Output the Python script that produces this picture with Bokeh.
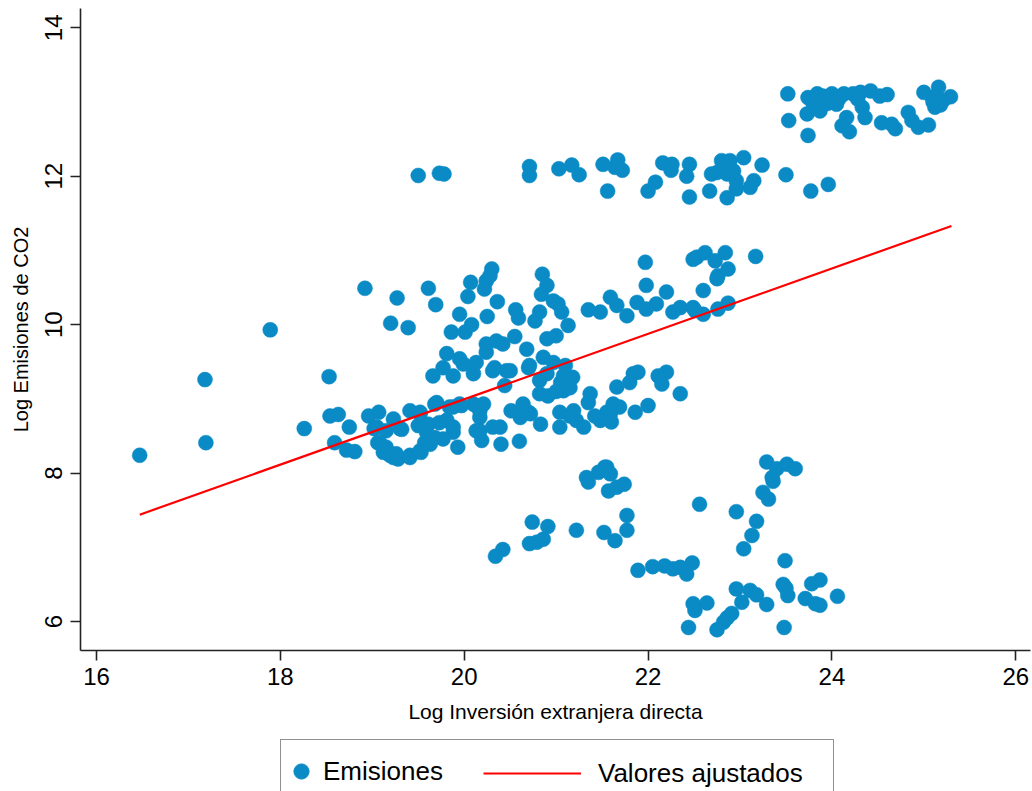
from bokeh.plotting import figure
from bokeh.models import FixedTicker, Legend, LegendItem, ColumnDataSource
from bokeh.layouts import column
from bokeh.embed import file_html
from bokeh.resources import INLINE

# ---- data ----
# band around log CO2 ~ 12
top_x = [19.50, 19.73, 19.78, 20.71, 20.71, 21.03, 21.17, 21.25, 21.51, 21.67, 21.64, 21.72, 21.56,
         22.16, 22.26, 22.25, 22.45, 22.42, 22.45, 22.08, 22.00, 22.69, 22.80, 22.89, 23.04, 23.24,
         23.15, 23.11, 22.96, 22.86, 22.67, 22.75, 22.86, 22.93, 22.96, 22.82, 23.50, 23.77, 23.96]
top_y = [12.01, 12.04, 12.03, 12.13, 12.01, 12.10, 12.15, 12.02, 12.16, 12.22, 12.12, 12.08, 11.80,
         12.18, 12.16, 12.08, 12.16, 12.00, 11.72, 11.92, 11.80, 12.03, 12.21, 12.21, 12.25, 12.15,
         11.94, 11.85, 11.83, 11.71, 11.80, 12.05, 12.03, 12.07, 11.94, 12.12, 12.02, 11.80, 11.89]

# upper-right group ~ 13
ur_x = [23.52, 23.53, 23.74, 23.73, 23.74, 23.84, 23.87, 23.80, 24.00, 24.05, 24.13, 24.11, 24.19,
        24.16, 24.23, 24.31, 24.33, 24.36, 24.42, 24.52, 24.54, 24.69, 24.65, 24.83, 24.87, 24.94,
        25.05, 25.00, 25.16, 25.12, 25.21, 25.29, 25.09, 23.90, 23.95, 24.08, 24.28, 23.78, 24.60,
        25.10, 25.18]
ur_y = [13.11, 12.75, 12.55, 12.84, 13.06, 13.11, 12.88, 12.97, 13.11, 12.97, 13.11, 12.68, 12.60,
        12.79, 13.11, 13.13, 12.93, 12.79, 13.15, 13.08, 12.72, 12.64, 12.70, 12.86, 12.75, 12.66,
        12.69, 13.13, 13.20, 12.93, 13.02, 13.07, 13.06, 13.08, 12.98, 13.05, 13.04, 13.02, 13.10,
        13.00, 12.96]

# middle band ~ 10-11
mid_x = [18.92, 19.27, 19.20, 19.39, 19.61, 19.69, 20.07, 20.04, 19.95, 19.86, 20.01, 20.08, 20.24,
         20.30, 20.22, 20.25, 20.36, 20.56, 20.59, 20.85, 20.90, 20.84, 20.82, 20.77, 20.97, 21.02,
         21.06, 21.13, 21.35, 21.48, 21.59, 21.66, 21.77, 21.88, 21.98, 22.09, 22.20, 22.27, 22.35,
         22.49, 21.98, 21.97, 22.49, 22.53, 22.62, 22.73, 22.84, 22.87, 22.76, 23.17, 22.75, 22.60,
         22.60, 22.76, 22.87, 22.51, 20.28, 17.89, 17.18, 18.53, 17.19, 16.47]
mid_y = [10.49, 10.36, 10.02, 9.96, 10.49, 10.27, 10.57, 10.38, 10.14, 9.90, 9.90, 10.00, 10.59,
         10.75, 10.48, 10.11, 10.31, 10.20, 10.09, 10.68, 10.53, 10.41, 10.17, 10.05, 10.32, 10.28,
         10.17, 9.99, 10.20, 10.17, 10.37, 10.26, 10.12, 10.30, 10.21, 10.28, 10.44, 10.17, 10.23,
         10.23, 10.53, 10.84, 10.88, 10.91, 10.97, 10.86, 10.97, 10.75, 10.66, 10.92, 10.62, 10.46,
         10.14, 10.21, 10.29, 10.19, 10.66, 9.93, 9.26, 9.30, 8.41, 8.24]

# dense cluster ~ 8.2-9.8
cl_x = [18.26, 18.54, 18.63, 18.75, 18.59, 18.72, 18.81, 18.96, 19.07, 19.23, 19.05, 19.06, 19.12,
        19.23, 19.15, 19.02, 19.30, 19.41, 19.52, 19.68, 19.08, 19.19, 19.28, 19.41, 19.52, 19.57,
        19.50, 19.61, 19.59, 19.73, 19.81, 19.84, 19.95, 19.88, 19.77, 19.93, 20.10, 20.21, 20.17,
        20.13, 20.19, 20.31, 19.66, 19.77, 19.88, 19.99, 20.10, 20.31, 19.81, 19.95, 20.13, 20.24,
        20.35, 20.42, 20.33, 20.46, 20.44, 20.55, 20.68, 20.70, 20.90, 21.00, 20.86, 20.97, 20.82,
        20.90, 20.82, 20.91, 21.08, 21.18, 21.08, 20.24, 20.50, 20.71, 21.10, 21.05, 21.15, 21.00,
        19.70, 19.88, 19.97, 20.13, 20.51, 20.64, 20.70, 20.39, 20.40, 20.60, 20.83, 21.04, 21.04,
        21.19, 21.22, 21.30, 21.37, 21.35, 21.48, 21.55, 21.62, 21.66, 21.69, 21.86, 22.00, 21.84,
        21.80, 21.89, 22.11, 22.20, 22.15, 22.35, 20.17, 20.17, 20.72, 20.61, 21.15, 21.42, 21.59,
        21.60, 19.32, 19.52, 19.81, 19.88, 19.15, 19.26, 19.41, 19.53, 19.63, 19.68]
cl_y = [8.60, 8.77, 8.79, 8.62, 8.41, 8.31, 8.29, 8.77, 8.82, 8.73, 8.62, 8.41, 8.28,
        8.21, 8.57, 8.60, 8.60, 8.84, 8.80, 8.93, 8.41, 8.24, 8.19, 8.24, 8.30, 8.41,
        8.64, 8.66, 8.55, 8.68, 8.71, 8.89, 8.93, 8.55, 8.46, 8.35, 8.93, 8.93, 8.75,
        8.57, 8.44, 8.62, 9.31, 9.42, 9.31, 9.47, 9.34, 9.38, 9.61, 9.54, 9.49, 9.63,
        9.78, 9.74, 9.42, 9.38, 9.18, 9.84, 9.67, 9.42, 9.81, 9.85, 9.56, 9.49, 9.25,
        9.34, 9.07, 9.04, 9.31, 9.29, 9.11, 9.74, 9.38, 9.45, 9.45, 9.22, 9.15, 9.10,
        8.95, 8.89, 8.91, 8.91, 8.84, 8.93, 8.82, 8.62, 8.39, 8.43, 8.66, 8.82, 8.62,
        8.84, 8.71, 8.62, 9.07, 8.95, 8.71, 8.82, 8.93, 9.16, 8.89, 8.82, 8.91, 9.34,
        9.22, 9.36, 9.31, 9.36, 9.20, 9.07, 8.84, 8.57, 8.80, 8.75, 8.77, 8.77, 8.80,
        8.69, 8.59, 8.82, 8.71, 8.62, 8.35, 8.26, 8.21, 8.28, 8.39, 8.48]

# lower group ~ 6-8
low_x = [21.33, 21.53, 21.35, 21.46, 21.55, 21.59, 21.57, 21.66, 21.74, 20.74, 20.91, 20.86, 20.71,
         20.79, 20.42, 20.34, 21.22, 21.52, 21.64, 21.77, 21.77, 21.89, 22.05, 22.18, 22.27, 22.35,
         22.42, 22.48, 22.49, 22.51, 22.44, 22.56, 23.29, 23.40, 23.51, 23.60, 23.35, 23.36, 23.25,
         23.31, 22.96, 23.18, 23.13, 23.04, 23.49, 22.64, 22.75, 22.82, 22.91, 22.96, 23.02, 23.11,
         23.18, 23.29, 23.47, 23.52, 23.48, 23.71, 23.78, 23.87, 23.82, 23.87, 24.06, 22.86, 23.50]
low_y = [7.94, 8.08, 7.88, 8.01, 8.08, 7.99, 7.76, 7.81, 7.85, 7.34, 7.28, 7.11, 7.05,
         7.07, 6.97, 6.88, 7.23, 7.20, 7.09, 7.43, 7.23, 6.69, 6.74, 6.75, 6.71, 6.73,
         6.64, 6.79, 6.24, 6.15, 5.92, 7.58, 8.15, 8.06, 8.12, 8.06, 7.94, 7.89, 7.74,
         7.65, 7.48, 7.35, 7.16, 6.98, 6.82, 6.25, 5.89, 5.99, 6.11, 6.44, 6.26, 6.42,
         6.36, 6.23, 6.50, 6.35, 5.92, 6.31, 6.51, 6.56, 6.24, 6.22, 6.34, 6.05, 6.45]

# fitted values (end points of the fitted line)
fit_x = [16.47, 25.30]
fit_y = [7.44, 11.33]

x_ticks = [16, 18, 20, 22, 24, 26]
y_ticks = [6, 8, 10, 12, 14]

x_all = top_x + ur_x + mid_x + cl_x + low_x
y_all = top_y + ur_y + mid_y + cl_y + low_y

FONT = "Liberation Sans"
BLUE = "#0A8BC6"
RED = "#FF0000"
DARK = "#222222"

src = ColumnDataSource(dict(x=x_all, y=y_all))
fit_src = ColumnDataSource(dict(x=fit_x, y=fit_y))

# ---- main plot ----
p = figure(width=1032, height=735, output_backend="svg", toolbar_location=None,
           x_range=(15.826, 26.16), y_range=(5.61, 14.26),
           min_border_left=80, min_border_right=2, min_border_top=8, min_border_bottom=85)
p.outline_line_color = None
p.xgrid.visible = False
p.ygrid.visible = False
p.background_fill_color = "white"
p.border_fill_color = "white"

p.scatter("x", "y", source=src, size=15, fill_color=BLUE, line_color=BLUE, line_width=0.5)
p.line("x", "y", source=fit_src, line_color=RED, line_width=2.2)

for ax, ticks in ((p.xaxis[0], x_ticks), (p.yaxis[0], y_ticks)):
    ax.ticker = FixedTicker(ticks=ticks)
    ax.minor_tick_line_color = None
    ax.major_tick_in = 0
    ax.major_tick_out = 10
    ax.axis_line_color = DARK
    ax.axis_line_width = 1.6
    ax.major_tick_line_color = DARK
    ax.major_tick_line_width = 1.6
    ax.major_label_text_font = FONT
    ax.major_label_text_font_size = "24px"
    ax.major_label_text_color = "black"
    ax.axis_label_text_font = FONT
    ax.axis_label_text_font_style = "normal"
    ax.axis_label_text_color = "black"

p.xaxis.axis_label = "Log Inversión extranjera directa"
p.xaxis.axis_label_text_font_size = "21px"
p.yaxis.axis_label = "Log Emisiones de CO2"
p.yaxis.axis_label_text_font_size = "20px"
p.xaxis.major_label_standoff = 7
p.xaxis.axis_label_standoff = 12
p.yaxis.major_label_orientation = "vertical"
p.yaxis.major_label_standoff = 8
p.yaxis.axis_label_standoff = 11

# ---- legend strip below (its frame is aligned with the main frame, left edge at x=80) ----
lg = figure(width=1032, height=56, output_backend="svg", toolbar_location=None,
            x_range=(0, 1), y_range=(0, 1), x_axis_location=None, y_axis_location=None,
            min_border_left=0, min_border_right=0, min_border_top=0, min_border_bottom=0)
lg.outline_line_color = None
lg.xgrid.visible = False
lg.ygrid.visible = False
lg.background_fill_color = "white"
lg.border_fill_color = "white"
# same series drawn in the strip (outside its ranges, so only their legend keys show)
key_pts = lg.scatter("x", "y", source=src, size=15, fill_color=BLUE, line_color=BLUE)
key_fit = lg.line("x", "y", source=fit_src, line_color=RED, line_width=2.2)

leg_a = Legend(items=[LegendItem(label="Emisiones", renderers=[key_pts])],
               location=(200, -12), orientation="horizontal",
               padding=1, glyph_width=38, glyph_height=60, label_height=60,
               label_width=509, label_standoff=3,
               label_text_font=FONT, label_text_font_size="26px", label_text_color="black",
               border_line_color=DARK, border_line_width=1.6,
               background_fill_color="white", background_fill_alpha=1.0)
leg_b = Legend(items=[LegendItem(label="Valores ajustados", renderers=[key_fit])],
               location=(403, -12), orientation="horizontal",
               padding=1, glyph_width=98, glyph_height=60, label_height=60,
               label_standoff=17,
               label_text_font=FONT, label_text_font_size="26px", label_text_color="black",
               border_line_color=None, background_fill_alpha=0.0)
lg.add_layout(leg_a)
lg.add_layout(leg_b)

page = column(p, lg, spacing=0)
open("out.html", "w").write(file_html(page, INLINE))
